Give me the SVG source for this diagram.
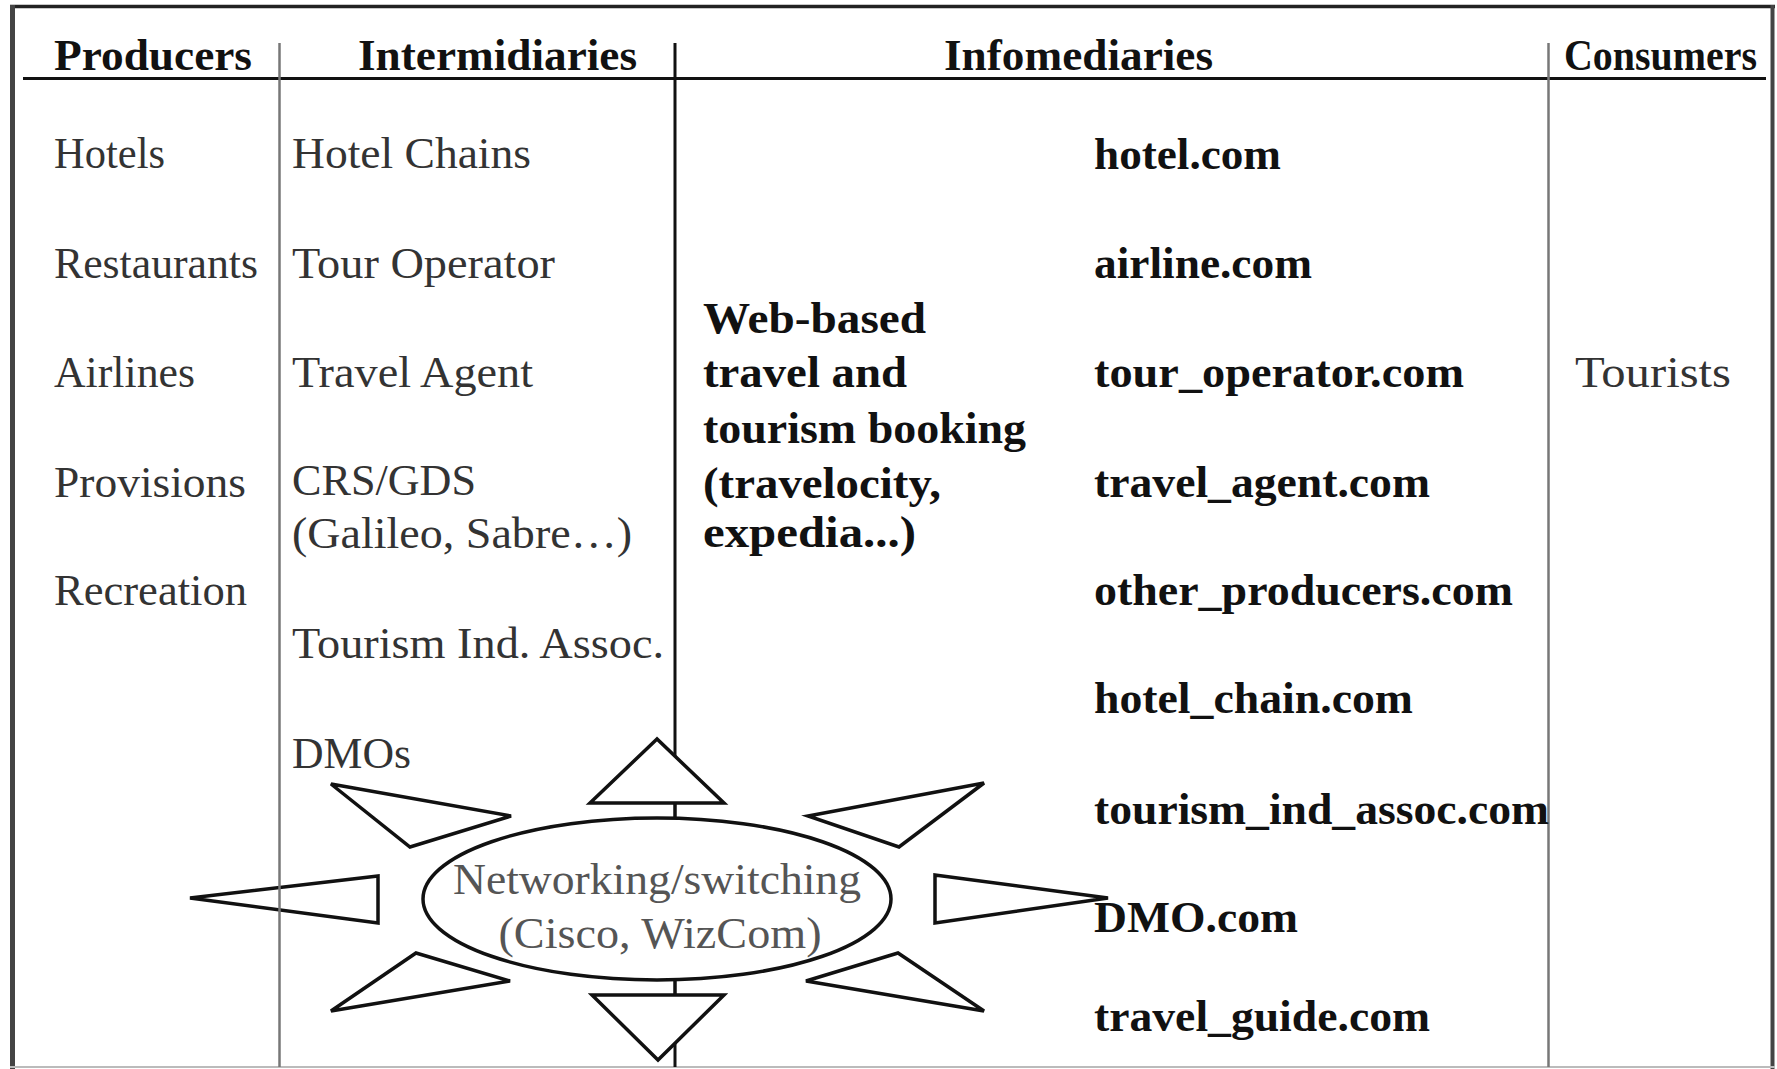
<svg xmlns="http://www.w3.org/2000/svg" width="1777" height="1069" viewBox="0 0 1777 1069">
<style>
.h{font-family:"Liberation Serif","Times New Roman",serif;font-weight:bold;font-size:44px;fill:#111}
.r{font-family:"Liberation Serif","Times New Roman",serif;font-size:44px;fill:#333}
.b{font-family:"Liberation Serif","Times New Roman",serif;font-weight:bold;font-size:44px;fill:#111}
.e{font-family:"Liberation Serif","Times New Roman",serif;font-size:44px;fill:#555}
.tri{fill:#fff;stroke:#111;stroke-width:3.5;stroke-linejoin:miter}
</style>
<rect width="1777" height="1069" fill="#fff"/>
<g id="frame">
<line x1="10" y1="6.5" x2="1775" y2="6.5" stroke="#222" stroke-width="3.5"/>
<line x1="12.5" y1="5" x2="12.5" y2="1069" stroke="#444" stroke-width="5"/>
<line x1="1772.5" y1="5" x2="1772.5" y2="1069" stroke="#444" stroke-width="4"/>
<line x1="10" y1="1067" x2="1775" y2="1067" stroke="#bbb" stroke-width="2"/>
</g>
<g id="connectors">
<line x1="23" y1="78.5" x2="1766" y2="78.5" stroke="#111" stroke-width="3"/>
<line x1="675" y1="43" x2="675" y2="1067" stroke="#111" stroke-width="3"/>
<line x1="1548.5" y1="43" x2="1548.5" y2="1067" stroke="#777" stroke-width="2.5"/>
</g>
<g id="header">
<text class="h" x="54" y="70" textLength="198" lengthAdjust="spacingAndGlyphs">Producers</text>
<text class="h" x="358" y="70" textLength="279" lengthAdjust="spacingAndGlyphs">Intermidiaries</text>
<text class="h" x="944" y="70" textLength="269" lengthAdjust="spacingAndGlyphs">Infomediaries</text>
<text class="h" x="1564" y="70" textLength="193" lengthAdjust="spacingAndGlyphs">Consumers</text>
</g>
<g id="producers">
<text class="r" x="54" y="168" textLength="111" lengthAdjust="spacingAndGlyphs">Hotels</text>
<text class="r" x="54" y="278" textLength="204" lengthAdjust="spacingAndGlyphs">Restaurants</text>
<text class="r" x="54" y="387" textLength="141" lengthAdjust="spacingAndGlyphs">Airlines</text>
<text class="r" x="54" y="497" textLength="192" lengthAdjust="spacingAndGlyphs">Provisions</text>
<text class="r" x="54" y="605" textLength="193" lengthAdjust="spacingAndGlyphs">Recreation</text>
</g>
<g id="intermediaries">
<text class="r" x="292" y="168" textLength="239" lengthAdjust="spacingAndGlyphs">Hotel Chains</text>
<text class="r" x="292" y="278" textLength="263" lengthAdjust="spacingAndGlyphs">Tour Operator</text>
<text class="r" x="292" y="387" textLength="241" lengthAdjust="spacingAndGlyphs">Travel Agent</text>
<text class="r" x="292" y="495" textLength="184" lengthAdjust="spacingAndGlyphs">CRS/GDS</text>
<text class="r" x="292" y="548" textLength="340" lengthAdjust="spacingAndGlyphs">(Galileo, Sabre…)</text>
<text class="r" x="292" y="658" textLength="372" lengthAdjust="spacingAndGlyphs">Tourism Ind. Assoc.</text>
<text class="r" x="292" y="768" textLength="119" lengthAdjust="spacingAndGlyphs">DMOs</text>
</g>
<g id="web-booking">
<text class="b" x="703" y="333" textLength="223" lengthAdjust="spacingAndGlyphs">Web-based</text>
<text class="b" x="703" y="387" textLength="204" lengthAdjust="spacingAndGlyphs">travel and</text>
<text class="b" x="703" y="443" textLength="323" lengthAdjust="spacingAndGlyphs">tourism booking</text>
<text class="b" x="703" y="498" textLength="238" lengthAdjust="spacingAndGlyphs">(travelocity,</text>
<text class="b" x="703" y="547" textLength="213" lengthAdjust="spacingAndGlyphs">expedia...)</text>
</g>
<g id="infomediaries">
<text class="b" x="1094" y="169" textLength="187" lengthAdjust="spacingAndGlyphs">hotel.com</text>
<text class="b" x="1094" y="278" textLength="218" lengthAdjust="spacingAndGlyphs">airline.com</text>
<text class="b" x="1094" y="387" textLength="370" lengthAdjust="spacingAndGlyphs">tour_operator.com</text>
<text class="b" x="1094" y="497" textLength="336" lengthAdjust="spacingAndGlyphs">travel_agent.com</text>
<text class="b" x="1094" y="605" textLength="419" lengthAdjust="spacingAndGlyphs">other_producers.com</text>
<text class="b" x="1094" y="713" textLength="319" lengthAdjust="spacingAndGlyphs">hotel_chain.com</text>
<text class="b" x="1094" y="824" textLength="455" lengthAdjust="spacingAndGlyphs">tourism_ind_assoc.com</text>
<text class="b" x="1094" y="932" textLength="204" lengthAdjust="spacingAndGlyphs">DMO.com</text>
<text class="b" x="1094" y="1031" textLength="336" lengthAdjust="spacingAndGlyphs">travel_guide.com</text>
</g>
<g id="consumers">
<text class="r" x="1575" y="387" textLength="156" lengthAdjust="spacingAndGlyphs">Tourists</text>
</g>
<g id="networking">
<polygon class="tri" points="657,739 590,803 724,803"/>
<polygon class="tri" points="592,995 724,995 658,1060"/>
<polygon class="tri" points="331,784 511,816 410,847"/>
<polygon class="tri" points="190,898 378,876 378,923"/>
<polygon class="tri" points="416,953 510,981 331,1011"/>
<polygon class="tri" points="984,783 808,816 899,847"/>
<polygon class="tri" points="1108,898 935,875 935,923"/>
<polygon class="tri" points="898,953 806,981 984,1011"/>
<line x1="675" y1="803" x2="675" y2="818" stroke="#111" stroke-width="3"/>
<line x1="675" y1="980" x2="675" y2="995" stroke="#111" stroke-width="3"/>
<ellipse cx="657" cy="899" rx="234" ry="81" fill="#fff" stroke="#111" stroke-width="3.5"/>
<text class="e" x="657" y="894" text-anchor="middle" textLength="408" lengthAdjust="spacingAndGlyphs">Networking/switching</text>
<text class="e" x="660" y="948" text-anchor="middle" textLength="323" lengthAdjust="spacingAndGlyphs">(Cisco, WizCom)</text>
</g>
<g id="divider-left">
<line x1="279.5" y1="43" x2="279.5" y2="1067" stroke="#777" stroke-width="2.5"/>
</g>
</svg>
